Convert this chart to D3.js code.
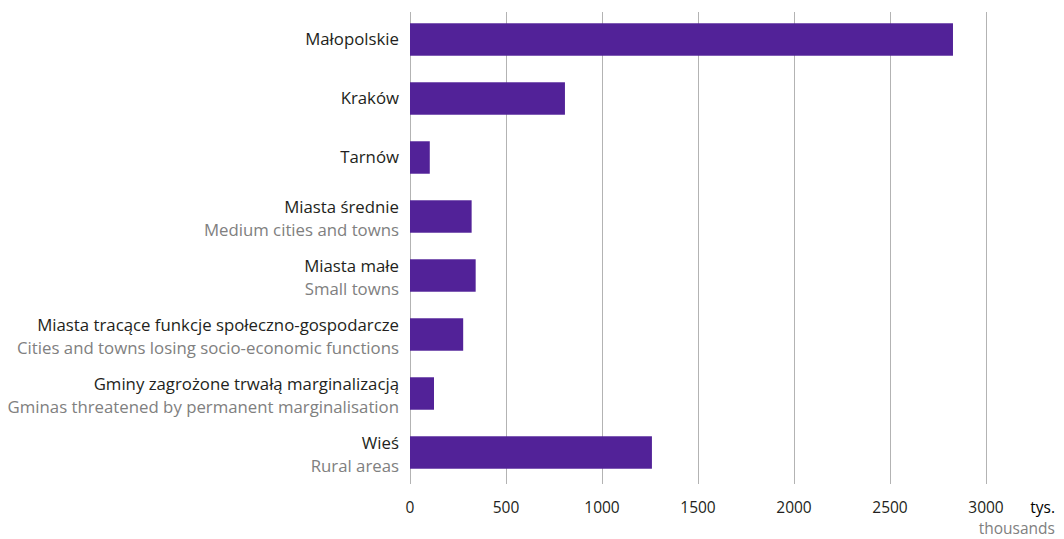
<!DOCTYPE html>
<html>
<head>
<meta charset="utf-8">
<script src="https://cdn.jsdelivr.net/npm/d3@7"></script>
<style>
  body { margin: 0; background: #fff; }
  text { font-family: "Open Sans", "Noto Sans", sans-serif; }
</style>
</head>
<body>
<svg id="chart" width="1064" height="539"></svg>
<script>
// Polish labels, English subtitles and values (thousands)
const labelsPl = ["Małopolskie", "Kraków", "Tarnów", "Miasta średnie", "Miasta małe",
  "Miasta tracące funkcje społeczno-gospodarcze", "Gminy zagrożone trwałą marginalizacją", "Wieś"];
const labelsEn = ["", "", "", "Medium cities and towns", "Small towns",
  "Cities and towns losing socio-economic functions", "Gminas threatened by permanent marginalisation", "Rural areas"];
const values = [2828, 807, 103, 321, 342, 277, 125, 1260];
const ticks = [0, 500, 1000, 1500, 2000, 2500, 3000];

let svg = d3.select("#chart");

// scales
let x = d3.scaleLinear().domain([0, 3000]).range([410, 986]);
let y = d3.scaleBand().domain(labelsPl).range([10, 482])
  .paddingInner(0.45).paddingOuter(0.225);

// vertical grid lines
svg.append("g").selectAll("line")
  .data(ticks)
  .enter().append("line")
  .attr("x1", d => Math.round(x(d)) + 0.5)
  .attr("x2", d => Math.round(x(d)) + 0.5)
  .attr("y1", 12)
  .attr("y2", 484)
  .attr("stroke", "#b3b3b3")
  .attr("stroke-width", 1);

// bars
svg.append("g").selectAll("rect")
  .data(values)
  .enter().append("rect")
  .attr("x", x(0))
  .attr("y", (d, i) => y(labelsPl[i]))
  .attr("width", d => x(d) - x(0))
  .attr("height", y.bandwidth())
  .attr("fill", "#522298");

// category labels
let lab = svg.append("g").selectAll("g")
  .data(labelsPl)
  .enter().append("g");

lab.append("text")
  .attr("x", 399)
  .attr("y", (d, i) => y(d) + y.bandwidth() / 2 + (labelsEn[i] ? -9 : 0))
  .attr("dy", "0.35em")
  .attr("text-anchor", "end")
  .style("font-size", "16.8px")
  .attr("fill", "#231f20")
  .text(d => d);

lab.append("text")
  .attr("x", 399)
  .attr("y", (d, i) => y(d) + y.bandwidth() / 2 + 14)
  .attr("dy", "0.35em")
  .attr("text-anchor", "end")
  .style("font-size", "16.8px")
  .attr("fill", "#808080")
  .text((d, i) => labelsEn[i]);

// x tick labels
svg.append("g").selectAll("text")
  .data(ticks)
  .enter().append("text")
  .attr("x", d => x(d))
  .attr("y", 508)
  .attr("dy", "0.35em")
  .attr("text-anchor", "middle")
  .style("font-size", "15.5px")
  .attr("fill", "#231f20")
  .text(d => d);

// unit label
svg.append("text")
  .attr("x", 1055)
  .attr("y", 508)
  .attr("dy", "0.35em")
  .attr("text-anchor", "end")
  .style("font-size", "15.5px")
  .attr("fill", "#000")
  .text("tys.");

svg.append("text")
  .attr("x", 1055)
  .attr("y", 529)
  .attr("dy", "0.35em")
  .attr("text-anchor", "end")
  .style("font-size", "15.5px")
  .attr("fill", "#808080")
  .text("thousands");
</script>
</body>
</html>
